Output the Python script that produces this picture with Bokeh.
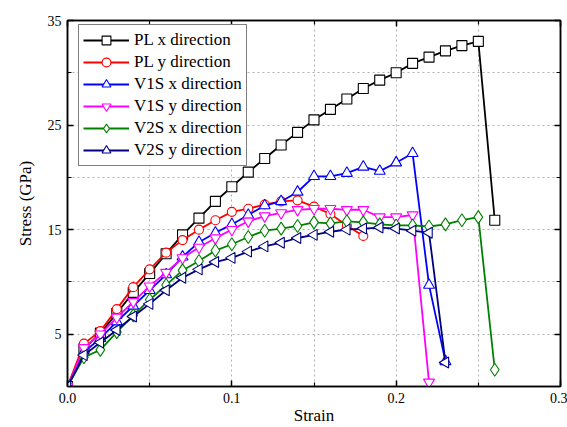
import numpy as np
from bokeh.plotting import figure
from bokeh.models import FixedTicker, LinearAxis, PrintfTickFormatter, Range1d, CustomJSTickFormatter
from bokeh.embed import file_html
from bokeh.resources import INLINE

# ---- data ----
strain_pl_x = [0.00, 0.01, 0.02, 0.03, 0.04, 0.05, 0.06, 0.07, 0.08, 0.09, 0.10, 0.11, 0.12, 0.13,
               0.14, 0.15, 0.16, 0.17, 0.18, 0.19, 0.20, 0.21, 0.22, 0.23, 0.24, 0.25, 0.26]
stress_pl_x = [0, 3.6, 5.1, 7.0, 9.0, 10.8, 12.7, 14.5, 16.1, 17.7, 19.1, 20.5, 21.8, 23.1,
               24.3, 25.5, 26.5, 27.5, 28.5, 29.3, 30.0, 30.9, 31.5, 32.1, 32.6, 33.0, 15.9]

strain_pl_y = [0.00, 0.01, 0.02, 0.03, 0.04, 0.05, 0.06, 0.07, 0.08, 0.09, 0.10, 0.11, 0.12, 0.13,
               0.14, 0.15, 0.16, 0.17, 0.18]
stress_pl_y = [0, 4.1, 5.3, 7.4, 9.5, 11.2, 12.8, 14.0, 15.0, 15.9, 16.7, 17.0, 17.4, 17.7,
               17.8, 17.2, 16.5, 15.4, 14.4]

strain_v1s_x = [0.00, 0.01, 0.02, 0.03, 0.04, 0.05, 0.06, 0.07, 0.08, 0.09, 0.10, 0.11, 0.12, 0.13,
                0.14, 0.15, 0.16, 0.17, 0.18, 0.19, 0.20, 0.21, 0.22, 0.23]
stress_v1s_x = [0, 3.3, 4.6, 6.2, 7.7, 9.2, 10.7, 12.4, 13.8, 14.7, 15.5, 16.4, 17.3, 17.7,
                18.6, 20.1, 20.1, 20.4, 21.0, 20.6, 21.4, 22.3, 9.7, 2.4]

strain_v1s_y = [0.00, 0.01, 0.02, 0.03, 0.04, 0.05, 0.06, 0.07, 0.08, 0.09, 0.10, 0.11, 0.12, 0.13,
                0.14, 0.15, 0.16, 0.17, 0.18, 0.19, 0.20, 0.21, 0.22]
stress_v1s_y = [0, 3.7, 5.0, 6.6, 8.1, 9.6, 10.9, 12.3, 13.3, 14.2, 15.0, 15.8, 16.3, 16.6,
                16.9, 17.0, 17.0, 16.9, 16.9, 16.2, 16.2, 16.4, 0.4]

strain_v2s_x = [0.00, 0.01, 0.02, 0.03, 0.04, 0.05, 0.06, 0.07, 0.08, 0.09, 0.10, 0.11, 0.12, 0.13,
                0.14, 0.15, 0.16, 0.17, 0.18, 0.19, 0.20, 0.21, 0.22, 0.23, 0.24, 0.25, 0.26]
stress_v2s_x = [0, 2.8, 3.5, 5.2, 6.8, 8.3, 9.7, 11.1, 12.0, 13.0, 13.6, 14.3, 14.9, 15.1,
                15.35, 15.7, 15.6, 15.8, 15.7, 15.5, 15.4, 15.4, 15.3, 15.5, 15.9, 16.2, 1.6]

strain_v2s_y = [0.00, 0.01, 0.02, 0.03, 0.04, 0.05, 0.06, 0.07, 0.08, 0.09, 0.10, 0.11, 0.12, 0.13,
                0.14, 0.15, 0.16, 0.17, 0.18, 0.19, 0.20, 0.21, 0.22, 0.23]
stress_v2s_y = [0, 3.0, 4.2, 5.4, 6.7, 7.9, 9.2, 10.4, 11.2, 11.9, 12.3, 12.9, 13.4, 13.75,
                14.2, 14.5, 14.8, 15.0, 15.1, 15.2, 15.1, 14.9, 14.7, 2.3]

labels = ["PL x direction", "PL y direction", "V1S x direction",
          "V1S y direction", "V2S x direction", "V2S y direction"]

x_major = [0.0, 0.1, 0.2, 0.3]
x_minor = [0.05, 0.15, 0.25]
y_major = [5, 15, 25, 35]
y_minor = [10, 20, 30]

series = [
    (strain_pl_x, stress_pl_x, "#000000", "square", 0.0, 10, labels[0]),
    (strain_pl_y, stress_pl_y, "#FF0000", "circle", 0.0, 9, labels[1]),
    (strain_v1s_x, stress_v1s_x, "#0000FF", "triangle", 0.0, 11, labels[2]),
    (strain_v1s_y, stress_v1s_y, "#FF00FF", "inverted_triangle", 0.0, 11, labels[3]),
    (strain_v2s_x, stress_v2s_x, "#008000", "diamond", 0.0, 13, labels[4]),
    (strain_v2s_y, stress_v2s_y, "#000080", "triangle", np.pi / 2, 11, labels[5]),
]

FONT = "'Liberation Serif', 'Times New Roman', serif"

p = figure(width=567, height=427, output_backend="svg", toolbar_location=None,
           x_range=Range1d(0, 0.3), y_range=Range1d(0, 35),
           min_border_left=67, min_border_right=7, min_border_top=20, min_border_bottom=40,
           x_axis_label="Strain", y_axis_label="Stress (GPa)")
p.background_fill_color = "white"
p.border_fill_color = "white"
p.outline_line_color = "black"
p.outline_line_width = 1.5

for xs, ys, color, marker, ang, sz, lab in series:
    p.line(xs, ys, line_color=color, line_width=1.8, legend_label=lab)
    p.scatter(xs, ys, marker=marker, size=sz,
              fill_color="white", line_color=color, line_width=1.1,
              angle=ang, legend_label=lab)

xt = FixedTicker(ticks=x_major, minor_ticks=x_minor)
yt = FixedTicker(ticks=y_major, minor_ticks=y_minor)


def style(ax, show_labels=True):
    ax.axis_line_color = "black"
    ax.axis_line_width = 1.5
    ax.major_tick_in = 6
    ax.major_tick_out = 0
    ax.minor_tick_in = 4
    ax.minor_tick_out = 0
    ax.major_tick_line_color = "black"
    ax.minor_tick_line_color = "black"
    ax.major_tick_line_width = 1.5
    ax.minor_tick_line_width = 1.2
    ax.major_label_text_font = FONT
    ax.major_label_text_color = "black"
    ax.major_label_text_font_size = "14px"
    if show_labels:
        ax.major_label_standoff = 6
    else:
        ax.major_label_standoff = 0
        ax.formatter = CustomJSTickFormatter(code="return ''")
    ax.axis_label_text_font = FONT
    ax.axis_label_text_font_style = "normal"
    ax.axis_label_text_font_size = "17px"
    ax.axis_label_text_color = "black"


p.xaxis.ticker = xt
p.yaxis.ticker = yt
p.xaxis.formatter = PrintfTickFormatter(format="%.1f")
style(p.xaxis[0])
style(p.yaxis[0])
p.xaxis.axis_label_standoff = 0
p.yaxis.axis_label_standoff = 10

top = LinearAxis(ticker=FixedTicker(ticks=x_major, minor_ticks=x_minor))
style(top, show_labels=False)
p.add_layout(top, "above")
right = LinearAxis(ticker=FixedTicker(ticks=y_major, minor_ticks=y_minor))
style(right, show_labels=False)
p.add_layout(right, "right")

p.xgrid.ticker = FixedTicker(ticks=[0.05, 0.1, 0.15, 0.2, 0.25])
p.ygrid.ticker = FixedTicker(ticks=[5, 10, 15, 20, 25, 30])
for g in (p.xgrid[0], p.ygrid[0]):
    g.grid_line_color = "#b0b0b0"
    g.grid_line_dash = "2 3"
    g.grid_line_width = 1

lg = p.legend[0]
lg.location = (11, 220)
lg.label_text_font = FONT
lg.label_text_font_size = "17px"
lg.label_text_color = "black"
lg.glyph_width = 46
lg.glyph_height = 22
lg.label_height = 22
lg.spacing = 0
lg.padding = 4
lg.margin = 0
lg.label_standoff = 5
lg.border_line_color = "black"
lg.border_line_width = 1.2
lg.background_fill_color = "white"
lg.background_fill_alpha = 1.0

open("out.html", "w").write(file_html(p, INLINE))
